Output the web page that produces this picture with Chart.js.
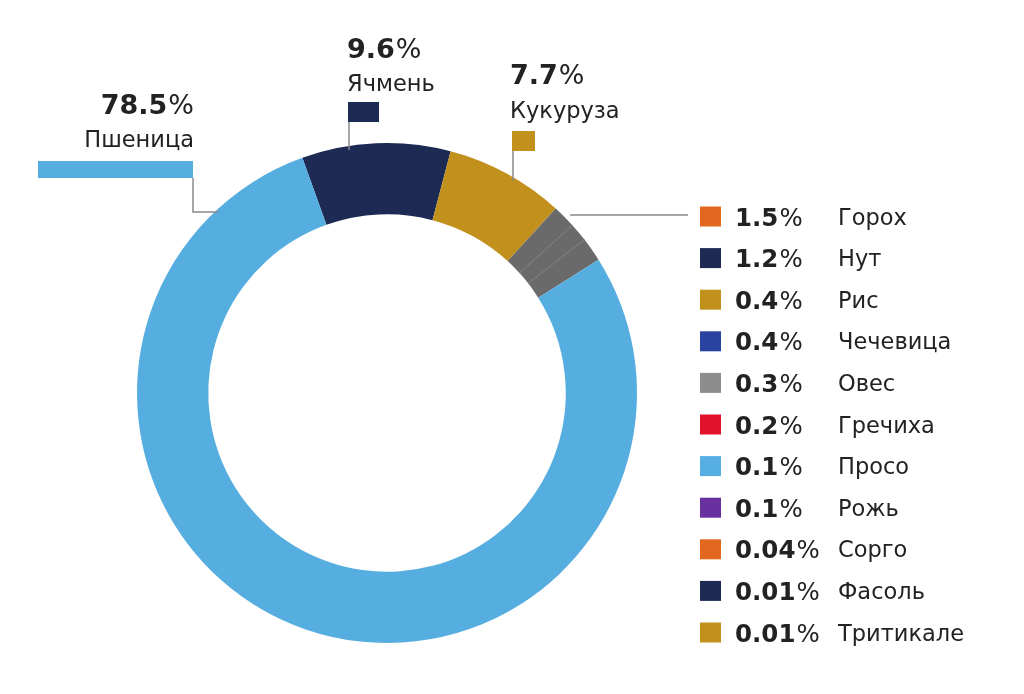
<!DOCTYPE html>
<html>
<head>
<meta charset="utf-8">
<script src="https://cdn.jsdelivr.net/npm/chart.js@4"></script>
<style>
html,body{margin:0;padding:0;background:#fff;}
canvas{display:block;}
</style>
</head>
<body>
<canvas id="c" width="1024" height="694"></canvas>
<script>
// ---- data ----
const mainLabels = ['Пшеница', 'Ячмень', 'Кукуруза'];
const mainValues = [78.5, 9.6, 7.7];
const mainColors = ['#56ade0', '#1c2a54', '#c2901d'];

const otherLabels = ['Горох', 'Нут', 'Рис', 'Чечевица', 'Овес', 'Гречиха', 'Просо', 'Рожь', 'Сорго', 'Фасоль', 'Тритикале'];
const otherValues = [1.5, 1.2, 0.4, 0.4, 0.3, 0.2, 0.1, 0.1, 0.04, 0.01, 0.01];
const otherColors = ['#e2681f', '#1c2a54', '#c2901d', '#2a43a0', '#8d8d8d', '#e3122b', '#56aee2', '#6930a0', '#e2681f', '#1c2a54', '#c2901d'];

// ring: barley, corn, pea, chickpea, remaining small crops (gray), wheat
const restValue = otherValues.slice(2).reduce((a, b) => a + b, 0);
const ringLabels = [mainLabels[1], mainLabels[2], otherLabels[0], otherLabels[1], 'Прочие', mainLabels[0]];
const ringValues = [mainValues[1], mainValues[2], otherValues[0], otherValues[1], restValue, mainValues[0]];
const GRAY = '#6a6a6a';
const ringColors = [mainColors[1], mainColors[2], GRAY, GRAY, GRAY, mainColors[0]];

const FONT = '"DejaVu Sans", sans-serif';
const TXT = '#222222';
const LINE = '#8a8a8a';

function pctText(ctx, num, x, y, align, size) {
  ctx.textBaseline = 'alphabetic';
  ctx.font = 'bold ' + size + 'px ' + FONT;
  const w1 = ctx.measureText(num).width;
  ctx.font = 'normal ' + size + 'px ' + FONT;
  const w2 = ctx.measureText('%').width;
  let sx = align === 'right' ? x - (w1 + w2 + 1) : x;
  ctx.textAlign = 'left';
  ctx.font = 'bold ' + size + 'px ' + FONT;
  ctx.fillText(num, sx, y);
  ctx.font = 'normal ' + size + 'px ' + FONT;
  ctx.fillText('%', sx + w1 + 1, y);
}

const annot = {
  id: 'annot',
  afterDatasetsDraw(chart) {
    // faint dividers inside the gray group
    const ctx = chart.ctx;
    const meta = chart.getDatasetMeta(0);
    ctx.save();
    ctx.strokeStyle = '#7e7e7e';
    ctx.lineWidth = 1;
    [3, 4].forEach(i => {
      const a = meta.data[i];
      const ang = a.startAngle;
      ctx.beginPath();
      ctx.moveTo(a.x + Math.cos(ang) * a.innerRadius, a.y + Math.sin(ang) * a.innerRadius);
      ctx.lineTo(a.x + Math.cos(ang) * a.outerRadius, a.y + Math.sin(ang) * a.outerRadius);
      ctx.stroke();
    });
    ctx.restore();
  },
  afterDraw(chart) {
    const ctx = chart.ctx;
    const arc = chart.getDatasetMeta(0).data[0];
    const cx = arc.x, cy = arc.y, R = arc.outerRadius;
    const edgeY = x => cy - Math.sqrt(Math.max(0, R * R - (x - cx) * (x - cx)));
    const edgeX = y => cx - Math.sqrt(Math.max(0, R * R - (y - cy) * (y - cy)));
    ctx.save();
    ctx.fillStyle = TXT;
    ctx.strokeStyle = LINE;
    ctx.lineWidth = 1.5;

    // Wheat
    pctText(ctx, String(mainValues[0]), 194, 114, 'right', 27);
    ctx.font = 'normal 22.5px ' + FONT;
    ctx.textAlign = 'right';
    ctx.fillText(mainLabels[0], 194, 147);
    ctx.fillStyle = mainColors[0];
    ctx.fillRect(38, 161, 155, 17);
    ctx.beginPath();
    ctx.moveTo(193, 178); ctx.lineTo(193, 212); ctx.lineTo(edgeX(212) + 4, 212);
    ctx.stroke();

    // Barley
    ctx.fillStyle = TXT;
    pctText(ctx, String(mainValues[1]), 347, 58, 'left', 27);
    ctx.font = 'normal 22.5px ' + FONT;
    ctx.textAlign = 'left';
    ctx.fillText(mainLabels[1], 347, 91);
    ctx.fillStyle = mainColors[1];
    ctx.fillRect(348, 102, 31, 20);
    ctx.beginPath();
    ctx.moveTo(349, 122); ctx.lineTo(349, edgeY(349) + 4);
    ctx.stroke();

    // Corn
    ctx.fillStyle = TXT;
    pctText(ctx, String(mainValues[2]), 510, 84, 'left', 27);
    ctx.font = 'normal 22.5px ' + FONT;
    ctx.textAlign = 'left';
    ctx.fillText(mainLabels[2], 510, 118);
    ctx.fillStyle = mainColors[2];
    ctx.fillRect(512, 131, 23, 20);
    ctx.beginPath();
    ctx.moveTo(513, 151); ctx.lineTo(513, edgeY(513) + 4);
    ctx.stroke();

    // connector from gray group to legend
    ctx.beginPath();
    ctx.moveTo(570, 215); ctx.lineTo(688, 215);
    ctx.stroke();

    // legend
    const y0 = 216.5, step = 41.6;
    otherLabels.forEach((lab, i) => {
      const yc = y0 + i * step;
      ctx.fillStyle = otherColors[i];
      ctx.fillRect(700, yc - 10, 21, 20);
      ctx.fillStyle = TXT;
      pctText(ctx, String(otherValues[i]), 735, yc + 9, 'left', 24.5);
      ctx.font = 'normal 22.5px ' + FONT;
      ctx.textAlign = 'left';
      ctx.fillText(lab, 838, yc + 8);
    });
    ctx.restore();
  }
};

new Chart(document.getElementById('c'), {
  type: 'doughnut',
  data: {
    labels: ringLabels,
    datasets: [{
      data: ringValues,
      backgroundColor: ringColors,
      borderWidth: 0
    }]
  },
  options: {
    responsive: false,
    animation: false,
    rotation: -19.8,
    cutout: '71.5%',
    layout: { padding: { left: 137, right: 387, top: 143, bottom: 51 } },
    plugins: { legend: { display: false }, tooltip: { enabled: false } }
  },
  plugins: [annot]
});
</script>
</body>
</html>
